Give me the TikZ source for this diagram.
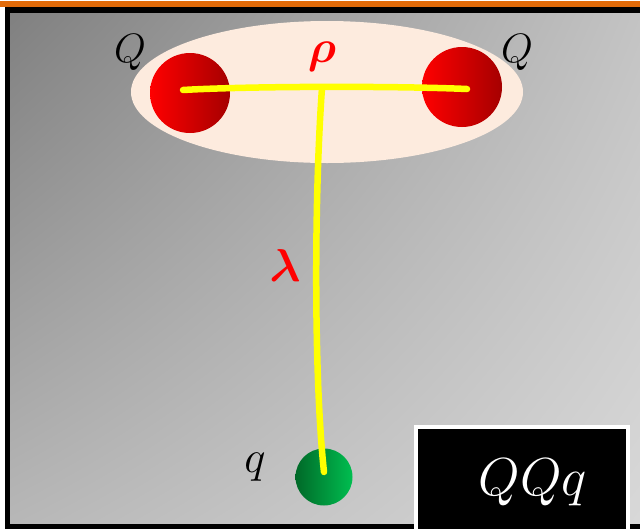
\documentclass[tikz,border=0pt]{standalone}
\usepackage{amsmath, amssymb, bm}
\usepackage{tikz}
\usetikzlibrary{calc,shadings}
\definecolor{peach}{RGB}{253,235,222}
\definecolor{topline}{RGB}{226,107,10}
\definecolor{quarkred}{RGB}{255,0,0}
\definecolor{quarkdark}{RGB}{165,0,0}
\definecolor{lightgreen}{RGB}{0,190,80}
\definecolor{darkgreen}{RGB}{0,105,40}
\definecolor{flux}{RGB}{255,255,0}

\begin{document}
\begin{tikzpicture}
    [x=1pt, y=-1pt,
    heavy/.style={circle, inner sep=0pt, minimum width=76pt, minimum height=80pt, left color=quarkred, right color=quarkdark},
    light/.style={circle, inner sep=0pt, minimum size=57pt, left color=darkgreen, right color=lightgreen},
    string/.style={draw=flux, line width=6.5pt, line cap=round},
    qlabel/.style={font=\Huge, scale=1.65},
    rlabel/.style={font=\Huge, scale=1.85, text=red}]
        \useasboundingbox (0,0) rectangle (640,528);
        %% background
        \begin{scope}
        \clip (0,0) rectangle (640,528);
        \shade[upper left=black!50, upper right=white!77!black, lower left=white!72!black, lower right=white!85!black] (7.5,10) rectangle (650,527);
        \draw[line width=5.5pt] (7.5,10) rectangle (650,527);
        \draw[topline, line width=6.5pt] (0,4) -- (640,4);
        \end{scope}
        %% diquark
        \fill[peach] (327,92) ellipse [x radius=196, y radius=71];
        \node[heavy] (QL) at (190,93) {};
        \node[heavy] (QR) at (462,87) {};
        \node[light] (q) at (324,477) {};
        \coordinate (J) at (322,88);

        \draw[string] ($(QL.center)+(-7,-3)$) .. controls (250,86) and (400,86) .. ($(QR.center)+(5,2)$);
        \draw[string] (J) .. controls (314,200) and (314,380) .. ($(q.center)+(0,-5)$);

        %% labels
        \node[qlabel] (QLlab) at (130,52) {$Q$};
        \node[qlabel] (QRlab) at (517,52) {$Q$};
        \node[rlabel] (rho) at (322,57) {$\bm{\rho}$};
        \node[rlabel] (lam) at (285,266) {$\bm{\lambda}$};
        \node[qlabel, scale=1.1] (qlab) at (255,467) {$q$};

        %% tag
        \node[draw=white, fill=black, line width=4pt, minimum width=212pt, minimum height=104pt, inner sep=0pt] (tag) at (521.5,479) {};
        \node[text=white, font=\Huge, scale=2.15] (tagtext) at (533,482) {$QQq$};
    \end{tikzpicture}
\end{document}
